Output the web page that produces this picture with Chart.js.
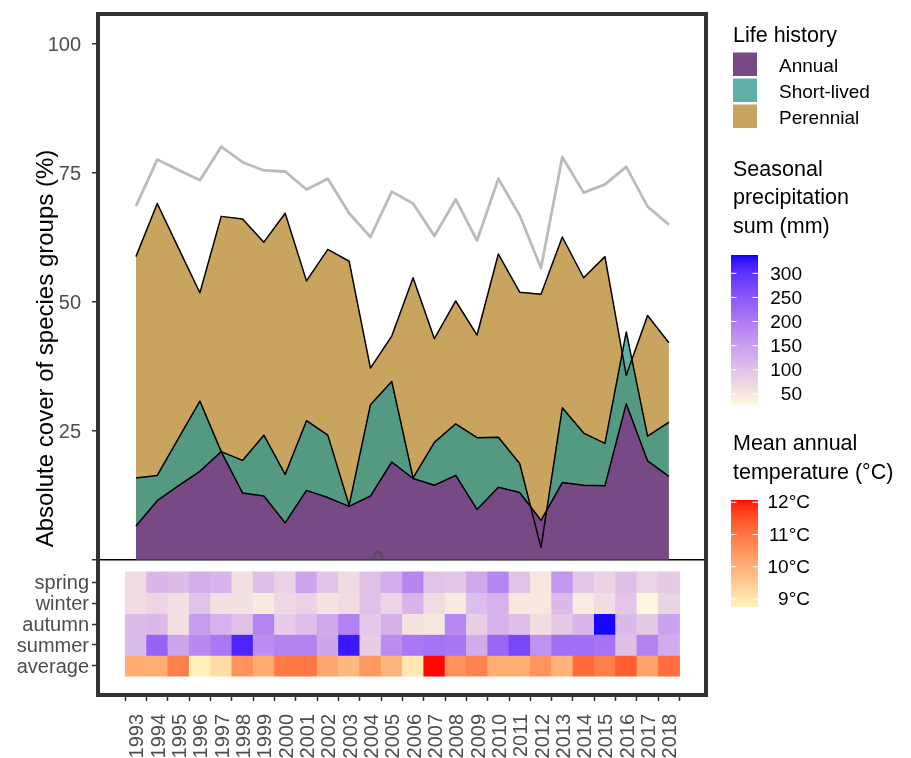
<!DOCTYPE html>
<html><head><meta charset="utf-8">
<script src="https://cdn.jsdelivr.net/npm/chart.js@4.4.1/dist/chart.umd.min.js"></script>
<style>html,body{margin:0;padding:0;background:#fff;}canvas{display:block;}</style>
</head><body>
<canvas id="c" width="911" height="758"></canvas>
<script>
// ---------- data ----------
const years = [1993,1994,1995,1996,1997,1998,1999,2000,2001,2002,2003,2004,2005,2006,2007,2008,2009,2010,2011,2012,2013,2014,2015,2016,2017,2018];
const annual     = [6.5,11.4,14.3,17.1,20.9,12.9,12.3,7.1,13.4,12.0,10.3,12.3,18.9,15.7,14.4,16.3,9.7,14.0,13.0,7.6,14.9,14.4,14.3,30.2,19.1,16.1];
const shortLived = [15.8,16.3,23.5,30.7,20.9,19.2,24.1,16.5,26.9,24.1,10.5,30.0,34.5,15.8,22.7,26.3,23.6,23.7,18.6,2.3,29.4,24.5,22.5,44.1,23.9,26.6];
const perennial  = [58.7,69.0,60.3,51.7,66.5,66.0,61.5,67.1,54.0,60.1,57.8,37.1,43.3,54.6,42.8,50.1,43.5,59.2,51.8,51.4,62.5,54.6,58.7,35.7,47.3,42.0];
const totalCover = [68.5,77.5,75.5,73.5,80.0,77.0,75.4,75.2,71.7,73.8,67.1,62.5,71.3,69.0,62.7,69.8,61.8,73.8,66.7,56.5,78.0,71.1,72.7,76.1,68.4,64.9];

const seasonRows = ['spring','winter','autumn','summer','average'];
const precipSpring = [64,116,109,130,119,60,105,78,140,98,67,102,130,185,99,96,136,185,99,50,161,96,77,105,76,89];
const precipWinter = [65,76,60,100,60,57,46,71,78,56,65,102,76,120,65,46,108,123,50,50,112,44,63,97,30,77];
const precipAutumn = [111,113,60,151,123,102,187,87,107,136,190,93,124,56,49,180,83,123,105,62,92,116,335,112,92,146];
const precipSummer = [109,233,142,180,204,312,173,189,190,142,323,84,175,204,213,206,133,230,272,168,217,217,210,105,190,132];
const meanTemp     = [10.10,10.05,10.85,8.78,9.19,10.55,10.09,10.95,10.97,10.17,9.85,10.42,9.90,8.95,12.05,10.55,10.81,10.05,10.05,10.49,9.99,11.15,10.85,11.35,10.20,11.12];

const coverTicks  = [0,25,50,75,100];
const precipTicks = [50,100,150,200,250,300];
const tempTicks   = [9,10,11,12];
const precipLimits = [27,338];
const tempLimits   = [8.75,12.07];

// ---------- colour ramps (Lab interpolation) ----------
function hexToRgb(h){const n=parseInt(h.slice(1),16);return [(n>>16)&255,(n>>8)&255,n&255];}
function toLin(c){c/=255;return c<=0.04045?c/12.92:Math.pow((c+0.055)/1.055,2.4);}
function fromLin(c){c=c<=0.0031308?12.92*c:1.055*Math.pow(c,1/2.4)-0.055;return Math.round(Math.min(1,Math.max(0,c))*255);}
const Xn=0.95047,Yn=1,Zn=1.08883;
function rgbToLab(rgb){const [r,g,b]=rgb.map(toLin);
  const X=0.4124564*r+0.3575761*g+0.1804375*b,Y=0.2126729*r+0.7151522*g+0.0721750*b,Z=0.0193339*r+0.1191920*g+0.9503041*b;
  const f=t=>t>0.008856?Math.cbrt(t):7.787*t+16/116;const fx=f(X/Xn),fy=f(Y/Yn),fz=f(Z/Zn);
  return [116*fy-16,500*(fx-fy),200*(fy-fz)];}
function labToRgb(L,a,b){const fy=(L+16)/116,fx=fy+a/500,fz=fy-b/200;
  const inv=t=>{const t3=t*t*t;return t3>0.008856?t3:(t-16/116)/7.787;};
  const X=Xn*inv(fx),Y=Yn*inv(fy),Z=Zn*inv(fz);
  const r=3.2404542*X-1.5371385*Y-0.4985314*Z,g=-0.9692660*X+1.8760108*Y+0.0415560*Z,bb=0.0556434*X-0.2040259*Y+1.0572252*Z;
  return 'rgb('+fromLin(r)+','+fromLin(g)+','+fromLin(bb)+')';}
function ramp(lo,hi,lim){const A=rgbToLab(hexToRgb(lo)),B=rgbToLab(hexToRgb(hi));
  return v=>{let t=(v-lim[0])/(lim[1]-lim[0]);t=Math.max(0,Math.min(1,t));
    return labToRgb(A[0]+(B[0]-A[0])*t,A[1]+(B[1]-A[1])*t,A[2]+(B[2]-A[2])*t);};}
const precipColor = ramp('#FFF8DC','#0000FF',precipLimits);
const tempColor   = ramp('#FFF3BE','#FF0000',tempLimits);

const FONT = '"Liberation Sans", Arial, Helvetica, sans-serif';
Chart.defaults.font.family = FONT;
Chart.defaults.color = '#4d4d4d';

const COL_ANNUAL = '#774985', COL_SHORT = 'rgba(44,150,142,0.75)', COL_PEREN = '#c9a45e';

const lineSet = (label, vals, bg, extra) => Object.assign({
  type:'line', label, yAxisID:'y',
  data: years.map((x,i)=>({x, y: vals[i]})),
  borderColor:'#000', borderWidth:1.5, backgroundColor:bg, fill:'origin',
  pointRadius:0, tension:0, borderJoinStyle:'round'
}, extra||{});

const rowValues = [precipSpring, precipWinter, precipAutumn, precipSummer, meanTemp];
const heatSets = seasonRows.map((name,i)=>({
  type:'bar', label:name, yAxisID:'yRows', grouped:false,
  barPercentage:1, categoryPercentage:1, borderWidth:0,
  data: years.map(x=>({x, y:[i-0.5, i+0.5]})),
  backgroundColor: rowValues[i].map(i===4 ? tempColor : precipColor)
}));

const datasets = [
  lineSet('Annual', annual, COL_ANNUAL),
  lineSet('Short-lived', shortLived, COL_SHORT),
  lineSet('Perennial', perennial, COL_PEREN),
  lineSet('Total', totalCover, 'transparent', {fill:false, borderColor:'#bbbbbb', borderWidth:2.8}),
  ...heatSets
];

// ---------- decorations & legend ----------
const decor = {
  id:'decor',
  afterDraw(chart){
    const {ctx, chartArea:a} = chart;
    const y0 = chart.scales.y.getPixelForValue(0);
    ctx.save();
    // stray "0" label, half hidden behind the lower panel
    ctx.save(); ctx.beginPath(); ctx.rect(a.left, a.top, a.right-a.left, y0-a.top-0.8); ctx.clip();
    ctx.fillStyle='#4d4d4d'; ctx.font='20px '+FONT; ctx.textAlign='center'; ctx.textBaseline='alphabetic';
    ctx.fillText('0', 378, 565);
    ctx.restore();
    // frame
    ctx.strokeStyle='#333'; ctx.lineWidth=4;
    ctx.strokeRect(a.left, a.top, a.right-a.left, a.bottom-a.top);
    // y title
    ctx.save(); ctx.translate(53, 348.5); ctx.rotate(-Math.PI/2);
    ctx.fillStyle='#000'; ctx.font='24px '+FONT; ctx.textAlign='center'; ctx.textBaseline='alphabetic';
    ctx.fillText('Absolute cover of species groups (%)', 0, 0);
    ctx.restore();

    // legend: life history
    const LX = 733;
    ctx.textAlign='left'; ctx.textBaseline='alphabetic'; ctx.fillStyle='#000';
    ctx.font='21.5px '+FONT;
    ctx.fillText('Life history', LX, 41.5);
    const keys = [[chart.data.datasets[0].label, COL_ANNUAL],[chart.data.datasets[1].label, COL_SHORT],[chart.data.datasets[2].label, COL_PEREN]];
    keys.forEach(([lab,col],i)=>{
      ctx.fillStyle=col; ctx.fillRect(LX, 52.5+26*i, 24, 23.5);
      ctx.fillStyle='#000'; ctx.font='19px '+FONT; ctx.fillText(lab, 779, 72.3+26*i);
    });

    // colourbar helper
    const bar = (top, bot, lim, fn, ticks, fmt, labelRight) => {
      const x=731, w=27;
      for (let py=top; py<bot; py++){
        const v = lim[0] + (bot-(py+0.5))/(bot-top)*(lim[1]-lim[0]);
        ctx.fillStyle = fn(v); ctx.fillRect(x, py, w, 1);
      }
      ctx.strokeStyle='#fff'; ctx.lineWidth=1;
      ctx.textAlign='right'; ctx.textBaseline='middle'; ctx.fillStyle='#000'; ctx.font='19px '+FONT;
      ticks.forEach(t=>{
        const py = bot - (t-lim[0])/(lim[1]-lim[0])*(bot-top);
        ctx.beginPath(); ctx.moveTo(x, py); ctx.lineTo(x+5.5, py); ctx.moveTo(x+w-5.5, py); ctx.lineTo(x+w, py); ctx.stroke();
        ctx.fillText(fmt(t), labelRight, py+1);
      });
      ctx.textAlign='left'; ctx.textBaseline='alphabetic';
    };

    ctx.fillStyle='#000'; ctx.font='21.5px '+FONT;
    ctx.fillText('Seasonal', LX, 175.5);
    ctx.fillText('precipitation', LX, 204);
    ctx.fillText('sum (mm)', LX, 232.5);
    bar(255, 405, precipLimits, precipColor, precipTicks, t=>String(t), 802);

    ctx.fillStyle='#000'; ctx.font='21.5px '+FONT;
    ctx.fillText('Mean annual', LX, 450);
    ctx.fillText('temperature (°C)', LX, 479);
    bar(500, 607, tempLimits, tempColor, tempTicks, t=>t+'°C', 810);
    ctx.restore();
  }
};

const noPad = s => { s.paddingTop = 0; s.paddingBottom = 0; s.paddingLeft = 0; s.paddingRight = 0; };

new Chart(document.getElementById('c'), {
  type:'line',
  data:{ datasets },
  options:{
    responsive:false, animation:false, events:[],
    layout:{ padding:{ left:0, right:205, top:14, bottom:0 } },
    plugins:{ legend:{display:false}, tooltip:{enabled:false}, filler:{ drawTime:'beforeDatasetsDraw' } },
    scales:{
      x:{ type:'linear', position:'bottom', min:1991.22, max:2019.74, offset:false,
        border:{display:false},
        grid:{ display:true, drawOnChartArea:false, drawTicks:true, tickLength:6, tickColor:'#333', tickWidth:1.5 },
        ticks:{ autoSkip:false, minRotation:90, maxRotation:90, padding:13, labelOffset:2, color:'#4d4d4d', font:{size:20}, callback:v=>String(v) },
        afterBuildTicks:s=>{ s.ticks = years.map(v=>({value:v})); },
        afterFit:s=>{ s.height = 63; noPad(s); } },
      y:{ type:'linear', position:'left', stack:'panels', stackWeight:545.5, weight:1, min:0, max:105.72, z:1,
        border:{display:false},
        grid:{ display:true, drawOnChartArea:true, lineWidth:1.5,
          color:c=> (c.tick && c.tick.value===0) ? '#000' : 'rgba(0,0,0,0)',
          drawTicks:true, tickLength:6, tickColor:'#333', tickWidth:1.5 },
        ticks:{ autoSkip:false, padding:11, labelOffset:1.5, color:'#4d4d4d', font:{size:20}, callback:v=> v===0 ? '' : String(v) },
        afterBuildTicks:s=>{ s.ticks = coverTicks.map(v=>({value:v})); },
        afterFit:s=>{ s.width = 98; noPad(s); } },
      yRows:{ type:'linear', position:'left', stack:'panels', stackWeight:135.5, weight:0, reverse:true, min:-1.088, max:5.395,
        border:{display:false},
        grid:{ display:true, drawOnChartArea:false, drawTicks:true, tickLength:6, tickColor:'#333', tickWidth:1.5 },
        ticks:{ autoSkip:false, padding:3, labelOffset:1.5, color:'#4d4d4d', font:{size:20}, callback:v=> seasonRows[v] },
        afterBuildTicks:s=>{ s.ticks = seasonRows.map((_,i)=>({value:i})); },
        afterFit:s=>{ s.width = 98; noPad(s); } }
    }
  },
  plugins:[decor]
});
</script>
</body></html>
